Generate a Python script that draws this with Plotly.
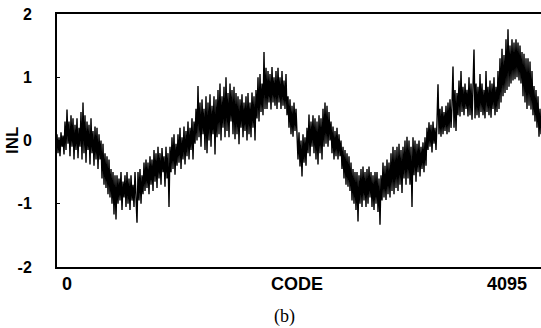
import numpy as np
import plotly.graph_objects as go

# INL values (uniformly spaced over codes 0..4095)
inl = [
    0.1, -0.2, 0.05, -0.25, 0.13, -0.1, 0.08, -0.22, 0.3, -0.15,
    0.49, -0.05, 0.3, -0.25, 0.4, -0.1, 0.35, -0.3, 0.25, -0.15,
    0.35, -0.28, 0.2, -0.1, 0.45, -0.3, 0.6, -0.2, 0.4, -0.35,
    0.3, -0.15, 0.25, -0.38, 0.35, -0.2, 0.15, -0.4, 0.22, -0.3,
    0.2, -0.45, 0.1, -0.3, 0.0, -0.6, -0.05, -0.7, -0.2, -0.75,
    -0.25, -0.85, -0.3, -0.9, -0.45, -1.0, -0.5, -1.17, -0.55, -1.25,
    -0.55, -1.0, -0.6, -0.95, -0.5, -1.1, -0.65, -0.9, -0.55, -1.05,
    -0.5, -1.0, -0.6, -1.1, -0.55, -0.95, -0.7, -1.05, -0.5, -0.9,
    -1.3, -0.5, -0.95, -0.45, -1.0, -0.55, -0.85, -0.35, -0.8, -0.3,
    -0.75, -0.35, -0.85, -0.25, -0.7, -0.3, -0.8, -0.15, -0.65, -0.2,
    -0.75, -0.1, -0.6, -0.2, -0.7, -0.12, -0.5, -0.25, -0.73, -0.1,
    -0.6, -0.2, -1.05, -0.1, -0.5, 0.05, -0.45, 0.1, -0.54, -0.05,
    -0.4, 0.1, -0.35, 0.2, -0.45, 0.05, -0.3, 0.22, -0.38, 0.15,
    -0.25, 0.3, -0.3, 0.2, -0.15, 0.35, -0.3, 0.3, -0.05, 0.5,
    0.0, 0.86, 0.05, 0.6, -0.1, 0.65, 0.1, 0.5, -0.15, 0.7,
    -0.2, 0.6, 0.0, 0.73, -0.1, 0.55, 0.1, 0.7, -0.22, 0.65,
    0.05, 0.8, 0.1, 0.9, 0.0, 0.7, 0.2, 0.85, 0.05, 1.0,
    0.15, 0.75, 0.05, 0.9, 0.3, 0.8, 0.1, 0.85, 0.02, 0.75,
    0.1, 0.7, -0.06, 0.65, 0.2, 0.73, 0.05, 0.6, 0.15, 0.7,
    0.0, 0.75, 0.1, 0.6, 0.05, 0.76, 0.2, 0.7, 0.0, 0.8,
    0.35, 1.0, 0.3, 1.05, 0.45, 0.9, 0.4, 1.4, 0.5, 1.15,
    0.5, 1.1, 0.6, 1.05, 0.49, 1.16, 0.6, 1.0, 0.55, 1.1,
    0.5, 1.15, 0.6, 1.0, 0.5, 1.1, 0.55, 0.95, 0.5, 1.05,
    0.4, 0.7, 0.2, 0.65, 0.1, 0.55, 0.06, 0.6, 0.15, 0.5,
    0.1, -0.3, 0.13, -0.41, 0.0, -0.57, 0.1, -0.35, 0.05, -0.4,
    0.2, -0.2, 0.41, -0.25, 0.3, -0.1, 0.4, -0.2, 0.35, -0.3,
    0.3, -0.38, 0.4, -0.2, 0.35, -0.3, 0.5, -0.1, 0.6, -0.05,
    0.55, -0.1, 0.45, 0.0, 0.3, -0.2, 0.22, -0.3, 0.15, -0.25,
    0.2, -0.3, 0.1, -0.25, 0.0, -0.45, -0.1, -0.6, -0.15, -0.7,
    -0.2, -0.73, -0.25, -0.8, -0.35, -0.95, -0.45, -1.0, -0.5, -1.1,
    -0.5, -1.28, -0.55, -1.0, -0.45, -1.05, -0.41, -0.95, -0.5, -1.05,
    -0.45, -1.0, -0.41, -0.9, -0.5, -1.05, -0.55, -1.1, -0.5, -1.0,
    -0.5, -1.13, -0.6, -1.33, -0.55, -0.95, -0.35, -0.9, -0.4, -0.94,
    -0.3, -0.85, -0.35, -0.9, -0.2, -0.8, -0.1, -0.85, -0.15, -0.75,
    -0.1, -0.8, -0.05, -0.7, -0.15, -0.83, -0.1, -0.6, 0.0, -0.7,
    0.06, -0.6, 0.0, -0.7, -0.1, -1.05, 0.05, -0.55, 0.0, -0.65,
    -0.05, -0.5, 0.0, -0.57, -0.1, -0.45, -0.03, -0.5, 0.05, -0.4,
    0.2, -0.15, 0.29, -0.1, 0.25, -0.19, 0.3, -0.05, 0.2, -0.15,
    0.3, 0.89, 0.1, 0.5, 0.06, 0.54, 0.1, 0.45, 0.15, 0.55,
    0.1, 0.6, 0.13, 0.65, 0.2, 0.55, 1.17, 0.2, 0.8, 0.15,
    0.75, 0.4, 0.95, 0.38, 1.1, 0.45, 0.85, 0.4, 0.9, 0.5,
    0.8, 0.38, 1.0, 0.4, 0.9, 0.33, 0.85, 1.44, 0.35, 0.9,
    0.4, 0.85, 0.36, 1.05, 0.45, 0.9, 0.4, 0.8, 0.35, 1.1,
    0.45, 0.85, 0.4, 0.95, 0.36, 0.9, 0.5, 1.0, 0.4, 0.85,
    0.45, 1.1, 0.5, 1.3, 0.6, 1.45, 0.7, 1.35, 0.75, 1.6,
    0.8, 1.76, 0.85, 1.5, 0.9, 1.6, 0.95, 1.55, 0.97, 1.6,
    1.0, 1.55, 0.95, 1.5, 0.9, 1.4, 0.7, 1.37, 0.6, 1.3,
    0.5, 1.3, 0.55, 1.25, 0.49, 1.1, 0.4, 0.86, 0.3, 0.8,
    0.2, 0.7, 0.06, 0.5, 0.1,
]
code_min, code_max = 0, 4095
codes = np.linspace(code_min, code_max, len(inl))

y_ticks = [-2, -1, 0, 1, 2]
x_labels = ["0", "CODE", "4095"]
x_label_pos = [85, 2030, 3810]
caption = "(b)"

fig = go.Figure()
fig.add_trace(go.Scatter(x=codes, y=inl, mode="lines",
                         line=dict(color="black", width=1.4),
                         showlegend=False, hoverinfo="skip"))

bold = dict(family="Liberation Sans, Arial, sans-serif", color="black", weight="bold")

fig.update_layout(
    width=541, height=328,
    margin=dict(l=57, r=0, t=14, b=61),
    paper_bgcolor="white", plot_bgcolor="white",
    xaxis=dict(range=[code_min, code_max], showgrid=False, zeroline=False,
               showline=True, linecolor="black", linewidth=2, mirror=True,
               showticklabels=False, ticks=""),
    yaxis=dict(range=[-2, 2], showgrid=False, zeroline=False,
               showline=True, linecolor="black", linewidth=2, mirror=False,
               tickvals=y_ticks, ticktext=[str(v) for v in y_ticks],
               ticks="inside", ticklen=3, tickcolor="black",
               tickfont=dict(size=16, **bold), ticklabelstandoff=20),
)

for lab, pos in zip(x_labels, x_label_pos):
    fig.add_annotation(x=pos, y=0, xref="x", yref="paper", text=lab,
                       showarrow=False, yanchor="top", yshift=-5,
                       font=dict(size=18, **bold))

fig.add_annotation(x=-0.092, y=0.5, xref="paper", yref="paper", text="INL",
                   showarrow=False, textangle=-90, xanchor="center", yanchor="middle",
                   font=dict(size=17, **bold))

fig.add_annotation(x=0.47, y=-0.148, xref="paper", yref="paper", text=caption,
                   showarrow=False, yanchor="top",
                   font=dict(size=18, family="Liberation Serif, Times New Roman, serif", color="black"))

fig.write_html("out.html")
